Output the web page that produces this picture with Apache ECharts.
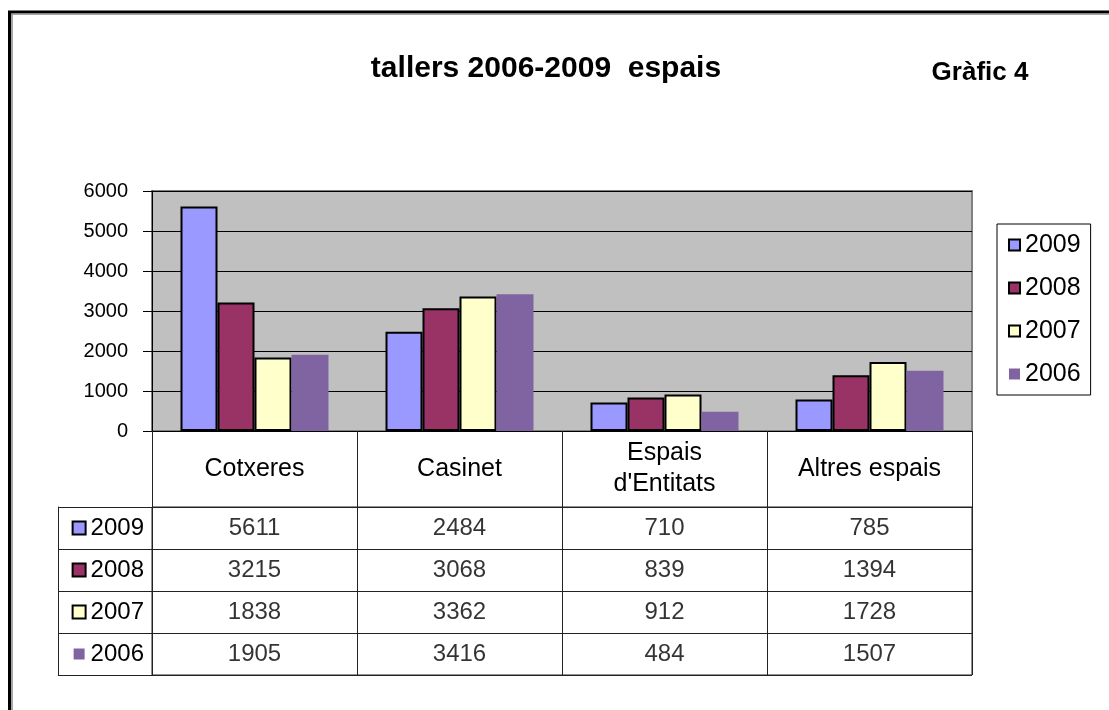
<!DOCTYPE html>
<html>
<head>
<meta charset="utf-8">
<script src="https://cdn.jsdelivr.net/npm/echarts@6/dist/echarts.min.js"></script>
<style>
html,body{margin:0;padding:0;background:#fff;}
#chart{width:1109px;height:710px;}
</style>
</head>
<body>
<div id="chart"></div>
<script>
const categories = ['Cotxeres', 'Casinet', "Espais\nd'Entitats", 'Altres espais'];
const years = ['2009', '2008', '2007', '2006'];
const values2009 = [5611, 2484, 710, 785];
const values2008 = [3215, 3068, 839, 1394];
const values2007 = [1838, 3362, 912, 1728];
const values2006 = [1905, 3416, 484, 1507];
const yTicks = { min: 0, max: 6000, interval: 1000 };
const titleText = 'tallers 2006-2009  espais';
const subTitleText = 'Gràfic 4';

const seriesValues = [values2009, values2008, values2007, values2006];
const colors = ['#9999FF', '#993366', '#FFFFCC', '#8064A2'];
const borders = [2, 2, 2, 0];
const FONT = "'Liberation Sans', Arial, sans-serif";
const LINE = '#222';

const chart = echarts.init(document.getElementById('chart'), null, { renderer: 'canvas' });

const barSeries = years.map((y, i) => ({
  name: y,
  type: 'bar',
  xAxisIndex: 0,
  yAxisIndex: 0,
  barWidth: 37,
  barGap: '0%',
  data: seriesValues[i],
  itemStyle: { color: colors[i], borderColor: '#000', borderWidth: borders[i] },
  emphasis: { disabled: true }
}));

const tableData = [];
years.forEach((y, i) => {
  categories.forEach((c, j) => {
    tableData.push([j, i, seriesValues[i][j]]);
  });
});

const rich = { t: { fontSize: 24, fontFamily: FONT, color: '#000', padding: [0, 0, 0, 6] } };
years.forEach((y, i) => {
  rich['s' + i] = {
    width: 11, height: 11, backgroundColor: colors[i],
    borderColor: '#000', borderWidth: borders[i]
  };
});

const option = {
  backgroundColor: '#fff',
  animation: false,
  textStyle: { fontFamily: FONT },
  title: [
    { text: titleText, left: 541, top: 64, textAlign: 'center', textVerticalAlign: 'middle',
      textStyle: { fontSize: 30, fontWeight: 'bold', color: '#000', fontFamily: FONT } },
    { text: subTitleText, left: 975, top: 68, textAlign: 'center', textVerticalAlign: 'middle',
      textStyle: { fontSize: 26, fontWeight: 'bold', color: '#000', fontFamily: FONT } }
  ],
  legend: {
    data: years.map(y => ({ name: y, icon: 'rect' })),
    orient: 'vertical',
    left: 997,
    top: 224,
    itemWidth: 11,
    itemHeight: 11,
    itemGap: 15,
    padding: [7, 10, 7, 11],
    borderColor: '#000',
    borderWidth: 1,
    backgroundColor: '#fff',
    textStyle: { fontSize: 25, color: '#000', fontFamily: FONT, lineHeight: 28 },
    selectedMode: false
  },
  grid: [
    { left: 152, top: 191, width: 820, height: 240, show: true,
      backgroundColor: '#C0C0C0', borderColor: '#808080', borderWidth: 2 },
    { left: 152, top: 507, width: 820, height: 168, show: true,
      backgroundColor: 'transparent', borderColor: LINE, borderWidth: 1 }
  ],
  xAxis: [
    { type: 'category', gridIndex: 0, data: categories,
      axisLine: { lineStyle: { color: '#000', width: 1 } },
      axisTick: { show: true, length: 76, interval: 0, lineStyle: { color: LINE } },
      axisLabel: { interval: 0, fontSize: 25, color: '#000', fontFamily: FONT,
        margin: 38, verticalAlign: 'middle', lineHeight: 31 } },
    { type: 'category', gridIndex: 1, data: categories,
      axisLine: { show: false }, axisTick: { show: false }, axisLabel: { show: false },
      splitLine: { show: true, interval: 0, lineStyle: { color: LINE } } }
  ],
  yAxis: [
    { type: 'value', gridIndex: 0, min: yTicks.min, max: yTicks.max, interval: yTicks.interval,
      axisLine: { show: true, lineStyle: { color: '#000' } },
      axisTick: { show: true, length: 9, lineStyle: { color: '#000' } },
      axisLabel: { fontSize: 20, color: '#000', fontFamily: FONT, margin: 24, formatter: v => String(v) },
      splitLine: { show: true, lineStyle: { color: '#000' } } },
    { type: 'category', gridIndex: 1, data: years, inverse: true,
      axisLine: { show: true, lineStyle: { color: LINE } },
      axisTick: { show: true, length: 94, interval: 0, lineStyle: { color: LINE } },
      axisLabel: { interval: 0, margin: 8, formatter: (v, i) => '{s' + i + '|}{t|' + v + '}', rich: rich },
      splitLine: { show: true, interval: 0, lineStyle: { color: LINE } } },
    { type: 'category', gridIndex: 1, data: years, inverse: true, position: 'left', offset: 94,
      axisLine: { show: true, lineStyle: { color: LINE } },
      axisTick: { show: false }, axisLabel: { show: false }, splitLine: { show: false } }
  ],
  series: barSeries.concat([{
    name: 'table',
    type: 'scatter',
    xAxisIndex: 1,
    yAxisIndex: 1,
    symbolSize: 1,
    itemStyle: { color: 'rgba(0,0,0,0)' },
    data: tableData,
    label: { show: true, position: 'inside', formatter: p => String(p.value[2]),
      fontSize: 24, color: '#000', fontFamily: FONT },
    emphasis: { disabled: true },
    silent: true
  }]),
  graphic: [
    { type: 'line', shape: { x1: 9.5, y1: 11, x2: 9.5, y2: 710 }, style: { stroke: '#000', lineWidth: 3 } },
    { type: 'line', shape: { x1: 12, y1: 13, x2: 12, y2: 710 }, style: { stroke: '#888', lineWidth: 1.5 } },
    { type: 'line', shape: { x1: 8, y1: 12, x2: 1109, y2: 12 }, style: { stroke: '#000', lineWidth: 3 } },
    { type: 'line', shape: { x1: 11, y1: 14, x2: 1109, y2: 14 }, style: { stroke: '#888', lineWidth: 1.5 } }
  ]
};
chart.setOption(option);
</script>
</body>
</html>
